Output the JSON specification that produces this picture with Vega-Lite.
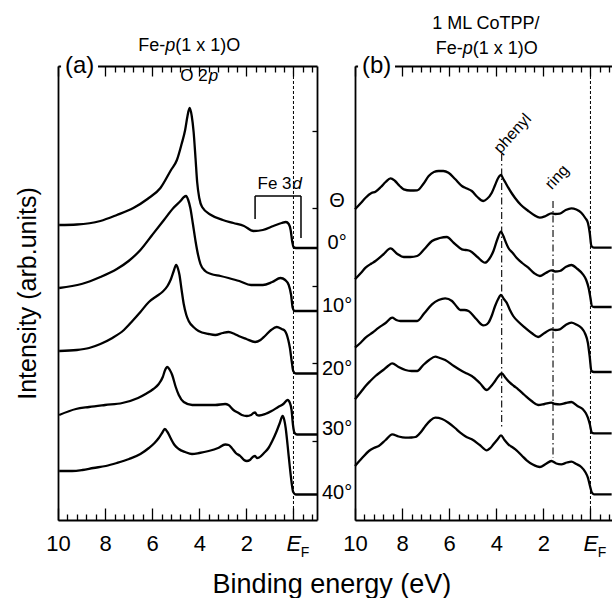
{
  "$schema": "https://vega.github.io/schema/vega-lite/v6.json",
  "padding": {"left": 15, "top": 14, "right": 0, "bottom": 0},
  "config": {
    "font": "Liberation Sans",
    "view": {"stroke": null},
    "axis": {"domainColor": "black", "domainWidth": 1.8, "tickColor": "black", "tickWidth": 1.3, "labelColor": "black", "titleColor": "black", "grid": false, "labelFont": "Liberation Sans", "titleFont": "Liberation Sans"},
    "text": {"font": "Liberation Sans", "color": "black"}
  },
  "title": {"text": "Binding energy (eV)", "orient": "bottom", "anchor": "middle", "fontSize": 27, "fontWeight": "normal", "font": "Liberation Sans", "color": "black", "offset": 12, "dx": 18},
  "spacing": 38,
  "bounds": "flush",
  "datasets": {
    "a": [
      {"t":"0","E":9.95,"I":295},{"t":"0","E":9.2,"I":295.5},{"t":"0","E":8.2,"I":299},{"t":"0","E":7.5,"I":305},{"t":"0","E":6.8,"I":312},{"t":"0","E":6.2,"I":321},{"t":"0","E":5.65,"I":332},{"t":"0","E":5.2,"I":350},{"t":"0","E":4.95,"I":360},{"t":"0","E":4.75,"I":376},{"t":"0","E":4.6,"I":390},{"t":"0","E":4.5,"I":404},{"t":"0","E":4.41,"I":412},{"t":"0","E":4.32,"I":404},{"t":"0","E":4.24,"I":388},{"t":"0","E":4.16,"I":362},{"t":"0","E":4.09,"I":338},{"t":"0","E":4.0,"I":322},{"t":"0","E":3.88,"I":313},{"t":"0","E":3.5,"I":305},{"t":"0","E":3.0,"I":300},{"t":"0","E":2.55,"I":297},{"t":"0","E":2.1,"I":294},{"t":"0","E":1.7,"I":289},{"t":"0","E":1.3,"I":290},{"t":"0","E":0.85,"I":294},{"t":"0","E":0.5,"I":297},{"t":"0","E":0.32,"I":298},{"t":"0","E":0.2,"I":296},{"t":"0","E":0.12,"I":290},{"t":"0","E":0.05,"I":278},{"t":"0","E":0.0,"I":273},{"t":"0","E":-0.1,"I":272},{"t":"0","E":-1.0,"I":272},
      {"t":"10","E":9.95,"I":232},{"t":"10","E":9.0,"I":236},{"t":"10","E":8.2,"I":243},{"t":"10","E":7.5,"I":251},{"t":"10","E":7.0,"I":259},{"t":"10","E":6.5,"I":270},{"t":"10","E":6.0,"I":285},{"t":"10","E":5.5,"I":300},{"t":"10","E":5.1,"I":312},{"t":"10","E":4.8,"I":319},{"t":"10","E":4.65,"I":323},{"t":"10","E":4.56,"I":324},{"t":"10","E":4.47,"I":320},{"t":"10","E":4.38,"I":312},{"t":"10","E":4.27,"I":296},{"t":"10","E":4.16,"I":279},{"t":"10","E":4.05,"I":265},{"t":"10","E":3.95,"I":256},{"t":"10","E":3.75,"I":249},{"t":"10","E":3.5,"I":246},{"t":"10","E":3.1,"I":244},{"t":"10","E":2.76,"I":242},{"t":"10","E":2.3,"I":239},{"t":"10","E":1.8,"I":235},{"t":"10","E":1.3,"I":235},{"t":"10","E":0.9,"I":238},{"t":"10","E":0.55,"I":242},{"t":"10","E":0.35,"I":240},{"t":"10","E":0.2,"I":235},{"t":"10","E":0.1,"I":225},{"t":"10","E":0.03,"I":212},{"t":"10","E":-0.05,"I":209},{"t":"10","E":-1.0,"I":209},
      {"t":"20","E":9.95,"I":169},{"t":"20","E":9.2,"I":170},{"t":"20","E":8.68,"I":172},{"t":"20","E":8.2,"I":176},{"t":"20","E":7.69,"I":182},{"t":"20","E":7.2,"I":190},{"t":"20","E":6.84,"I":199},{"t":"20","E":6.5,"I":208},{"t":"20","E":6.14,"I":218},{"t":"20","E":5.8,"I":224},{"t":"20","E":5.57,"I":228},{"t":"20","E":5.35,"I":234},{"t":"20","E":5.22,"I":240},{"t":"20","E":5.1,"I":248},{"t":"20","E":4.98,"I":255},{"t":"20","E":4.9,"I":251},{"t":"20","E":4.84,"I":245},{"t":"20","E":4.75,"I":230},{"t":"20","E":4.66,"I":216},{"t":"20","E":4.55,"I":205},{"t":"20","E":4.45,"I":199},{"t":"20","E":4.2,"I":192},{"t":"20","E":4.03,"I":189},{"t":"20","E":3.6,"I":186},{"t":"20","E":3.32,"I":185},{"t":"20","E":3.0,"I":187},{"t":"20","E":2.76,"I":188},{"t":"20","E":2.5,"I":186},{"t":"20","E":2.33,"I":184},{"t":"20","E":2.0,"I":181},{"t":"20","E":1.63,"I":178},{"t":"20","E":1.4,"I":180},{"t":"20","E":1.21,"I":184},{"t":"20","E":0.95,"I":190},{"t":"20","E":0.71,"I":193},{"t":"20","E":0.5,"I":191},{"t":"20","E":0.36,"I":189},{"t":"20","E":0.22,"I":180},{"t":"20","E":0.15,"I":172},{"t":"20","E":0.07,"I":158},{"t":"20","E":0.01,"I":149},{"t":"20","E":-0.1,"I":146.5},{"t":"20","E":-1.0,"I":146.5},
      {"t":"30","E":9.95,"I":105},{"t":"30","E":9.24,"I":111},{"t":"30","E":8.68,"I":113},{"t":"30","E":8.0,"I":115},{"t":"30","E":7.27,"I":117},{"t":"30","E":6.6,"I":122},{"t":"30","E":6.28,"I":126},{"t":"30","E":5.95,"I":131},{"t":"30","E":5.72,"I":136},{"t":"30","E":5.55,"I":143},{"t":"30","E":5.45,"I":150},{"t":"30","E":5.36,"I":153},{"t":"30","E":5.25,"I":150},{"t":"30","E":5.15,"I":145},{"t":"30","E":5.0,"I":133},{"t":"30","E":4.87,"I":125},{"t":"30","E":4.66,"I":118},{"t":"30","E":4.3,"I":115},{"t":"30","E":3.74,"I":115},{"t":"30","E":3.32,"I":115},{"t":"30","E":2.9,"I":116},{"t":"30","E":2.76,"I":115},{"t":"30","E":2.55,"I":110},{"t":"30","E":2.33,"I":107},{"t":"30","E":2.19,"I":105},{"t":"30","E":1.98,"I":104},{"t":"30","E":1.8,"I":105},{"t":"30","E":1.7,"I":107},{"t":"30","E":1.63,"I":107.5},{"t":"30","E":1.55,"I":105},{"t":"30","E":1.46,"I":104.5},{"t":"30","E":1.2,"I":106},{"t":"30","E":0.93,"I":109},{"t":"30","E":0.65,"I":113},{"t":"30","E":0.43,"I":116},{"t":"30","E":0.25,"I":120},{"t":"30","E":0.15,"I":117},{"t":"30","E":0.08,"I":110},{"t":"30","E":0.02,"I":95},{"t":"30","E":-0.05,"I":87},{"t":"30","E":-0.15,"I":85.5},{"t":"30","E":-1.0,"I":85.5},
      {"t":"40","E":9.95,"I":49},{"t":"40","E":9.4,"I":49},{"t":"40","E":8.96,"I":50},{"t":"40","E":8.5,"I":52},{"t":"40","E":7.97,"I":54},{"t":"40","E":7.5,"I":57},{"t":"40","E":6.98,"I":61},{"t":"40","E":6.5,"I":66},{"t":"40","E":6.14,"I":72},{"t":"40","E":5.9,"I":77},{"t":"40","E":5.72,"I":82},{"t":"40","E":5.58,"I":87},{"t":"40","E":5.46,"I":91},{"t":"40","E":5.35,"I":88},{"t":"40","E":5.22,"I":82},{"t":"40","E":5.05,"I":75},{"t":"40","E":4.87,"I":71},{"t":"40","E":4.6,"I":68},{"t":"40","E":4.31,"I":66},{"t":"40","E":4.0,"I":67},{"t":"40","E":3.6,"I":69},{"t":"40","E":3.2,"I":72},{"t":"40","E":2.9,"I":75.5},{"t":"40","E":2.75,"I":75},{"t":"40","E":2.62,"I":72},{"t":"40","E":2.45,"I":67},{"t":"40","E":2.26,"I":64},{"t":"40","E":2.1,"I":60},{"t":"40","E":1.98,"I":59},{"t":"40","E":1.85,"I":60},{"t":"40","E":1.77,"I":62},{"t":"40","E":1.7,"I":63.5},{"t":"40","E":1.63,"I":64},{"t":"40","E":1.55,"I":62},{"t":"40","E":1.46,"I":62.5},{"t":"40","E":1.25,"I":67},{"t":"40","E":1.06,"I":72},{"t":"40","E":0.9,"I":79},{"t":"40","E":0.71,"I":89},{"t":"40","E":0.58,"I":97},{"t":"40","E":0.46,"I":104},{"t":"40","E":0.39,"I":100},{"t":"40","E":0.33,"I":92},{"t":"40","E":0.25,"I":75},{"t":"40","E":0.15,"I":52},{"t":"40","E":0.07,"I":36},{"t":"40","E":0.01,"I":28},{"t":"40","E":-0.1,"I":25.5},{"t":"40","E":-1.0,"I":25.5}
    ],
    "b": [
      {"t":"0","E":10,"I":310.7},{"t":"0","E":9.75,"I":317},{"t":"0","E":9.55,"I":322.3},{"t":"0","E":9.3,"I":327},{"t":"0","E":9.13,"I":328.3},{"t":"0","E":8.9,"I":333},{"t":"0","E":8.7,"I":338},{"t":"0","E":8.49,"I":341.7},{"t":"0","E":8.3,"I":339},{"t":"0","E":8.1,"I":334},{"t":"0","E":7.93,"I":330.7},{"t":"0","E":7.65,"I":329.5},{"t":"0","E":7.36,"I":329.7},{"t":"0","E":7.1,"I":336},{"t":"0","E":6.87,"I":344},{"t":"0","E":6.65,"I":348},{"t":"0","E":6.45,"I":349},{"t":"0","E":6.25,"I":349},{"t":"0","E":6.03,"I":347.3},{"t":"0","E":5.75,"I":341},{"t":"0","E":5.46,"I":334},{"t":"0","E":5.25,"I":331.5},{"t":"0","E":5.04,"I":329},{"t":"0","E":4.8,"I":323},{"t":"0","E":4.55,"I":319},{"t":"0","E":4.4,"I":321},{"t":"0","E":4.19,"I":327.3},{"t":"0","E":4.05,"I":335},{"t":"0","E":3.92,"I":342},{"t":"0","E":3.8,"I":345},{"t":"0","E":3.7,"I":341},{"t":"0","E":3.6,"I":337},{"t":"0","E":3.49,"I":332.3},{"t":"0","E":3.35,"I":327},{"t":"0","E":3.21,"I":322.3},{"t":"0","E":2.95,"I":315},{"t":"0","E":2.64,"I":309},{"t":"0","E":2.4,"I":305},{"t":"0","E":2.15,"I":302.3},{"t":"0","E":1.9,"I":304},{"t":"0","E":1.66,"I":306.7},{"t":"0","E":1.5,"I":306},{"t":"0","E":1.3,"I":306.3},{"t":"0","E":1.05,"I":310},{"t":"0","E":0.81,"I":311.7},{"t":"0","E":0.6,"I":310.5},{"t":"0","E":0.39,"I":307.3},{"t":"0","E":0.22,"I":302},{"t":"0","E":0.11,"I":297.3},{"t":"0","E":0.03,"I":287},{"t":"0","E":-0.04,"I":274},{"t":"0","E":-0.15,"I":272.3},{"t":"0","E":-0.9,"I":272.3},
      {"t":"10","E":10,"I":240.7},{"t":"10","E":9.75,"I":247},{"t":"10","E":9.55,"I":252.3},{"t":"10","E":9.3,"I":256.5},{"t":"10","E":9.13,"I":259},{"t":"10","E":8.8,"I":265.5},{"t":"10","E":8.49,"I":271.7},{"t":"10","E":8.2,"I":266},{"t":"10","E":7.93,"I":263},{"t":"10","E":7.65,"I":263},{"t":"10","E":7.36,"I":264},{"t":"10","E":7.05,"I":271},{"t":"10","E":6.73,"I":279},{"t":"10","E":6.4,"I":282},{"t":"10","E":6.1,"I":283},{"t":"10","E":5.8,"I":277},{"t":"10","E":5.46,"I":270.7},{"t":"10","E":5.3,"I":270},{"t":"10","E":5.11,"I":269},{"t":"10","E":4.8,"I":263},{"t":"10","E":4.48,"I":257.3},{"t":"10","E":4.3,"I":261},{"t":"10","E":4.12,"I":269},{"t":"10","E":3.95,"I":281},{"t":"10","E":3.8,"I":288.3},{"t":"10","E":3.7,"I":284},{"t":"10","E":3.6,"I":278},{"t":"10","E":3.49,"I":272.3},{"t":"10","E":3.3,"I":267},{"t":"10","E":3.14,"I":262.3},{"t":"10","E":2.9,"I":257},{"t":"10","E":2.64,"I":252.3},{"t":"10","E":2.4,"I":247},{"t":"10","E":2.15,"I":244},{"t":"10","E":1.9,"I":247},{"t":"10","E":1.66,"I":249.7},{"t":"10","E":1.5,"I":248.5},{"t":"10","E":1.3,"I":249},{"t":"10","E":1.05,"I":253},{"t":"10","E":0.81,"I":255},{"t":"10","E":0.55,"I":251},{"t":"10","E":0.32,"I":245.7},{"t":"10","E":0.18,"I":240},{"t":"10","E":0.08,"I":232.3},{"t":"10","E":0.0,"I":222},{"t":"10","E":-0.06,"I":214},{"t":"10","E":-0.15,"I":213},{"t":"10","E":-0.9,"I":213},
      {"t":"20","E":10,"I":172.3},{"t":"20","E":9.75,"I":177.5},{"t":"20","E":9.55,"I":182.3},{"t":"20","E":9.25,"I":187.5},{"t":"20","E":8.99,"I":192.3},{"t":"20","E":8.7,"I":197},{"t":"20","E":8.42,"I":202.3},{"t":"20","E":8.25,"I":200},{"t":"20","E":8.07,"I":199},{"t":"20","E":7.7,"I":199},{"t":"20","E":7.36,"I":199},{"t":"20","E":7.05,"I":207},{"t":"20","E":6.73,"I":215.7},{"t":"20","E":6.45,"I":220},{"t":"20","E":6.17,"I":221.7},{"t":"20","E":5.88,"I":219},{"t":"20","E":5.7,"I":214},{"t":"20","E":5.53,"I":210},{"t":"20","E":5.35,"I":210},{"t":"20","E":5.18,"I":209},{"t":"20","E":4.85,"I":201},{"t":"20","E":4.55,"I":194.7},{"t":"20","E":4.45,"I":195},{"t":"20","E":4.33,"I":197.3},{"t":"20","E":4.18,"I":205},{"t":"20","E":4.05,"I":214},{"t":"20","E":3.92,"I":221},{"t":"20","E":3.8,"I":225},{"t":"20","E":3.68,"I":221},{"t":"20","E":3.56,"I":217.3},{"t":"20","E":3.42,"I":210},{"t":"20","E":3.28,"I":204},{"t":"20","E":3.05,"I":198},{"t":"20","E":2.78,"I":192.3},{"t":"20","E":2.5,"I":187},{"t":"20","E":2.22,"I":183},{"t":"20","E":1.95,"I":187},{"t":"20","E":1.66,"I":190.7},{"t":"20","E":1.5,"I":190},{"t":"20","E":1.3,"I":190.7},{"t":"20","E":1.05,"I":195},{"t":"20","E":0.81,"I":197.3},{"t":"20","E":0.6,"I":195.5},{"t":"20","E":0.39,"I":192.3},{"t":"20","E":0.22,"I":186},{"t":"20","E":0.11,"I":177.3},{"t":"20","E":0.03,"I":163},{"t":"20","E":-0.04,"I":149},{"t":"20","E":-0.15,"I":148},{"t":"20","E":-0.9,"I":148},
      {"t":"30","E":10,"I":120.7},{"t":"30","E":9.75,"I":128},{"t":"30","E":9.55,"I":134},{"t":"30","E":9.35,"I":139},{"t":"30","E":9.13,"I":144},{"t":"30","E":8.8,"I":150},{"t":"30","E":8.6,"I":154},{"t":"30","E":8.42,"I":156.7},{"t":"30","E":8.15,"I":153},{"t":"30","E":7.86,"I":150},{"t":"30","E":7.6,"I":149},{"t":"30","E":7.36,"I":149},{"t":"30","E":7.1,"I":155},{"t":"30","E":6.85,"I":160},{"t":"30","E":6.59,"I":163.3},{"t":"30","E":6.4,"I":162},{"t":"30","E":6.17,"I":160},{"t":"30","E":5.8,"I":154},{"t":"30","E":5.46,"I":149},{"t":"30","E":5.25,"I":146.5},{"t":"30","E":5.04,"I":144},{"t":"30","E":4.7,"I":137},{"t":"30","E":4.4,"I":130},{"t":"30","E":4.25,"I":133},{"t":"30","E":4.05,"I":139},{"t":"30","E":3.9,"I":144},{"t":"30","E":3.77,"I":146.7},{"t":"30","E":3.6,"I":142},{"t":"30","E":3.42,"I":137.3},{"t":"30","E":3.25,"I":134},{"t":"30","E":3.07,"I":130.7},{"t":"30","E":2.8,"I":125},{"t":"30","E":2.5,"I":119},{"t":"30","E":2.22,"I":115},{"t":"30","E":1.95,"I":116},{"t":"30","E":1.66,"I":117.3},{"t":"30","E":1.5,"I":116},{"t":"30","E":1.3,"I":115.7},{"t":"30","E":1.05,"I":117},{"t":"30","E":0.81,"I":118},{"t":"30","E":0.55,"I":114},{"t":"30","E":0.32,"I":110.7},{"t":"30","E":0.2,"I":107},{"t":"30","E":0.11,"I":102.3},{"t":"30","E":0.03,"I":96},{"t":"30","E":-0.06,"I":87.3},{"t":"30","E":-0.15,"I":86.7},{"t":"30","E":-0.9,"I":86.7},
      {"t":"40","E":10,"I":54},{"t":"40","E":9.7,"I":62},{"t":"40","E":9.41,"I":69},{"t":"40","E":9.2,"I":72},{"t":"40","E":8.99,"I":74},{"t":"40","E":8.7,"I":80},{"t":"40","E":8.42,"I":85.7},{"t":"40","E":8.15,"I":83.5},{"t":"40","E":7.86,"I":82.3},{"t":"40","E":7.6,"I":82.5},{"t":"40","E":7.43,"I":83},{"t":"40","E":7.2,"I":88},{"t":"40","E":7.01,"I":94},{"t":"40","E":6.8,"I":99.5},{"t":"40","E":6.59,"I":102.3},{"t":"40","E":6.3,"I":101},{"t":"40","E":6.03,"I":97.3},{"t":"40","E":5.75,"I":92},{"t":"40","E":5.53,"I":87.3},{"t":"40","E":5.3,"I":83.5},{"t":"40","E":5.04,"I":80.7},{"t":"40","E":4.7,"I":75},{"t":"40","E":4.4,"I":69.7},{"t":"40","E":4.25,"I":72},{"t":"40","E":4.12,"I":75.7},{"t":"40","E":3.95,"I":80.5},{"t":"40","E":3.8,"I":84.7},{"t":"40","E":3.65,"I":80},{"t":"40","E":3.49,"I":75.7},{"t":"40","E":3.3,"I":72.5},{"t":"40","E":3.14,"I":69.7},{"t":"40","E":2.9,"I":64},{"t":"40","E":2.71,"I":59.7},{"t":"40","E":2.45,"I":55.5},{"t":"40","E":2.15,"I":53},{"t":"40","E":1.9,"I":56},{"t":"40","E":1.66,"I":59},{"t":"40","E":1.45,"I":56.5},{"t":"40","E":1.24,"I":55.7},{"t":"40","E":1.0,"I":57.5},{"t":"40","E":0.81,"I":58.3},{"t":"40","E":0.6,"I":56},{"t":"40","E":0.39,"I":53},{"t":"40","E":0.22,"I":48},{"t":"40","E":0.11,"I":42.3},{"t":"40","E":0.02,"I":34},{"t":"40","E":-0.06,"I":27.3},{"t":"40","E":-0.15,"I":25.7},{"t":"40","E":-0.9,"I":25.7}
    ],
    "angles": [
      {"label":"Θ","I":319},{"label":"0°","I":277},{"label":"10°","I":214},{"label":"20°","I":151},{"label":"30°","I":91},{"label":"40°","I":27}
    ]
  },
  "hconcat": [
    {
      "width": 259,
      "height": 454,
      "data": {"values": [{}]},
      "layer": [
        {
          "data": {"name": "a"},
          "mark": {"type": "line", "color": "black", "strokeWidth": 2.3, "interpolate": "monotone", "strokeJoin": "round"},
          "encoding": {
            "x": {"field": "E", "type": "quantitative", "scale": {"domain": [10, -1], "nice": false, "zero": false},
              "axis": {"orient": "bottom", "title": null,
                "values": [10,9.6,9.2,8.8,8.4,8,7.6,7.2,6.8,6.4,6,5.6,5.2,4.8,4.4,4,3.6,3.2,2.8,2.4,2,1.6,1.2,0.8,0.4,0,-0.4,-0.8],
                "labelExpr": "abs(datum.value % 2) < 0.001 ? (datum.value == 0 ? 'E' : '' + datum.value) : ''",
                "labelFontStyle": {"condition": {"test": "datum.value == 0", "value": "italic"}, "value": "normal"},
                "labelFontSize": 22, "labelOverlap": false, "labelFlush": false, "labelPadding": 25,
                "tickSize": -12,
                "tickDash": {"condition": {"test": "abs(datum.value % 2) > 0.001", "value": [6, 30]}, "value": [40, 0]}}},
            "y": {"field": "I", "type": "quantitative", "scale": {"domain": [0, 454], "nice": false, "zero": false},
              "axis": {"orient": "left", "title": "Intensity (arb.units)", "labels": false, "ticks": false, "titleFontSize": 25, "titleFontWeight": "normal", "titlePadding": 18}},
            "detail": {"field": "t"}
          }
        },
        {
          "mark": {"type": "rule", "color": "black", "strokeWidth": 1, "strokeDash": [3, 2]},
          "encoding": {
            "x": {"datum": 0, "type": "quantitative",
              "axis": {"orient": "top", "title": null, "labels": false,
                "values": [10,9.6,9.2,8.8,8.4,8,7.6,7.2,6.8,6.4,6,5.6,5.2,4.8,4.4,4,3.6,3.2,2.8,2.4,2,1.6,1.2,0.8,0.4,0,-0.4,-0.8],
                "tickSize": -10,
                "tickDash": {"condition": {"test": "abs(datum.value % 2) > 0.001", "value": [6, 30]}, "value": [40, 0]}}}
          }
        },
        {
          "mark": {"type": "rule", "color": "black", "strokeWidth": 1.5},
          "encoding": {
            "x": {"datum": 1.63, "type": "quantitative", "axis": null},
            "x2": {"datum": -0.32},
            "y": {"datum": 324, "type": "quantitative",
              "axis": {"orient": "right", "title": null, "labels": false, "values": [79, 157, 234, 312, 389], "tickSize": -5}}
          }
        },
        {
          "mark": {"type": "rule", "color": "black", "strokeWidth": 1.5},
          "encoding": {
            "x": {"datum": 1.63, "type": "quantitative", "axis": null},
            "y": {"datum": 324, "type": "quantitative", "axis": null},
            "y2": {"datum": 301}
          }
        },
        {
          "mark": {"type": "rule", "color": "black", "strokeWidth": 1.5},
          "encoding": {
            "x": {"datum": -0.32, "type": "quantitative", "axis": null},
            "y": {"datum": 324, "type": "quantitative", "axis": null},
            "y2": {"datum": 282}
          }
        },
        {
          "mark": {"type": "rect", "fill": "white"},
          "encoding": {
            "x": {"datum": 9.87, "type": "quantitative", "axis": null},
            "x2": {"datum": 8.3},
            "y": {"datum": 440, "type": "quantitative", "axis": null},
            "y2": {"datum": 468}
          }
        },
        {
          "mark": {"type": "text", "text": "(a)", "fontSize": 24, "align": "center", "baseline": "middle"},
          "encoding": {"x": {"datum": 9.08, "type": "quantitative", "axis": null}, "y": {"datum": 454, "type": "quantitative", "axis": null}}
        },
        {
          "mark": {"type": "text", "text": "O 2", "fontSize": 17, "align": "right", "baseline": "middle"},
          "encoding": {"x": {"datum": 3.64, "type": "quantitative", "axis": null}, "y": {"datum": 444, "type": "quantitative", "axis": null}}
        },
        {
          "mark": {"type": "text", "text": "p", "fontSize": 17, "fontStyle": "italic", "align": "left", "baseline": "middle", "dx": 1},
          "encoding": {"x": {"datum": 3.64, "type": "quantitative", "axis": null}, "y": {"datum": 444, "type": "quantitative", "axis": null}}
        },
        {
          "mark": {"type": "text", "text": "Fe 3", "fontSize": 17, "align": "right", "baseline": "middle"},
          "encoding": {"x": {"datum": 0.08, "type": "quantitative", "axis": null}, "y": {"datum": 336, "type": "quantitative", "axis": null}}
        },
        {
          "mark": {"type": "text", "text": "d", "fontSize": 17, "fontStyle": "italic", "align": "left", "baseline": "middle", "dx": 1},
          "encoding": {"x": {"datum": 0.08, "type": "quantitative", "axis": null}, "y": {"datum": 336, "type": "quantitative", "axis": null}}
        },
        {
          "mark": {"type": "text", "text": "Fe-", "fontSize": 18, "align": "right", "baseline": "middle"},
          "encoding": {"x": {"datum": 5.44, "type": "quantitative", "axis": null}, "y": {"datum": 474, "type": "quantitative", "axis": null}}
        },
        {
          "mark": {"type": "text", "text": "p", "fontSize": 18, "fontStyle": "italic", "align": "center", "baseline": "middle"},
          "encoding": {"x": {"datum": 5.23, "type": "quantitative", "axis": null}, "y": {"datum": 474, "type": "quantitative", "axis": null}}
        },
        {
          "mark": {"type": "text", "text": "(1 x 1)O", "fontSize": 18, "align": "left", "baseline": "middle"},
          "encoding": {"x": {"datum": 5.02, "type": "quantitative", "axis": null}, "y": {"datum": 474, "type": "quantitative", "axis": null}}
        },
        {
          "mark": {"type": "text", "text": "F", "fontSize": 14, "align": "center", "baseline": "middle"},
          "encoding": {"x": {"datum": -0.49, "type": "quantitative", "axis": null}, "y": {"datum": -33, "type": "quantitative", "axis": null}}
        }
      ],
      "resolve": {"axis": {"x": "independent", "y": "independent"}}
    },
    {
      "width": 257,
      "height": 454,
      "data": {"values": [{}]},
      "layer": [
        {
          "data": {"name": "b"},
          "mark": {"type": "line", "color": "black", "strokeWidth": 2.3, "interpolate": "monotone", "strokeJoin": "round"},
          "encoding": {
            "x": {"field": "E", "type": "quantitative", "scale": {"domain": [10, -0.915], "nice": false, "zero": false},
              "axis": {"orient": "bottom", "title": null,
                "values": [10,9.6,9.2,8.8,8.4,8,7.6,7.2,6.8,6.4,6,5.6,5.2,4.8,4.4,4,3.6,3.2,2.8,2.4,2,1.6,1.2,0.8,0.4,0,-0.4,-0.8],
                "labelExpr": "abs(datum.value % 2) < 0.001 ? (datum.value == 0 ? 'E' : '' + datum.value) : ''",
                "labelFontStyle": {"condition": {"test": "datum.value == 0", "value": "italic"}, "value": "normal"},
                "labelFontSize": 22, "labelOverlap": false, "labelFlush": false, "labelPadding": 25,
                "tickSize": -12,
                "tickDash": {"condition": {"test": "abs(datum.value % 2) > 0.001", "value": [6, 30]}, "value": [40, 0]}}},
            "y": {"field": "I", "type": "quantitative", "scale": {"domain": [0, 454], "nice": false, "zero": false},
              "axis": {"orient": "left", "title": null, "labels": false, "ticks": false}},
            "detail": {"field": "t"}
          }
        },
        {
          "mark": {"type": "rule", "color": "black", "strokeWidth": 1, "strokeDash": [3, 2]},
          "encoding": {
            "x": {"datum": 0, "type": "quantitative",
              "axis": {"orient": "top", "title": null, "labels": false,
                "values": [10,9.6,9.2,8.8,8.4,8,7.6,7.2,6.8,6.4,6,5.6,5.2,4.8,4.4,4,3.6,3.2,2.8,2.4,2,1.6,1.2,0.8,0.4,0,-0.4,-0.8],
                "tickSize": -10,
                "tickDash": {"condition": {"test": "abs(datum.value % 2) > 0.001", "value": [6, 30]}, "value": [40, 0]}}}
          }
        },
        {
          "mark": {"type": "rule", "color": "black", "strokeWidth": 1.1, "strokeDash": [7, 3, 1.5, 3]},
          "encoding": {
            "x": {"datum": 3.77, "type": "quantitative", "axis": null},
            "y": {"datum": 366, "type": "quantitative", "axis": null},
            "y2": {"datum": 91}
          }
        },
        {
          "mark": {"type": "rule", "color": "black", "strokeWidth": 1.1, "strokeDash": [7, 3, 1.5, 3]},
          "encoding": {
            "x": {"datum": 1.59, "type": "quantitative", "axis": null},
            "y": {"datum": 319, "type": "quantitative", "axis": null},
            "y2": {"datum": 62}
          }
        },
        {
          "mark": {"type": "text", "text": "phenyl", "fontSize": 16, "align": "left", "baseline": "middle", "angle": -48},
          "encoding": {"x": {"datum": 3.98, "type": "quantitative", "axis": null}, "y": {"datum": 369, "type": "quantitative", "axis": null}}
        },
        {
          "mark": {"type": "text", "text": "ring", "fontSize": 16, "align": "left", "baseline": "middle", "angle": -48},
          "encoding": {"x": {"datum": 1.8, "type": "quantitative", "axis": null}, "y": {"datum": 333, "type": "quantitative", "axis": null}}
        },
        {
          "mark": {"type": "rect", "fill": "white"},
          "encoding": {
            "x": {"datum": 9.87, "type": "quantitative", "axis": null},
            "x2": {"datum": 8.3},
            "y": {"datum": 440, "type": "quantitative", "axis": null},
            "y2": {"datum": 468}
          }
        },
        {
          "mark": {"type": "text", "text": "(b)", "fontSize": 24, "align": "center", "baseline": "middle"},
          "encoding": {"x": {"datum": 9.08, "type": "quantitative", "axis": null}, "y": {"datum": 454, "type": "quantitative", "axis": null}}
        },
        {
          "mark": {"type": "text", "text": "1 ML CoTPP/", "fontSize": 18, "align": "center", "baseline": "middle"},
          "encoding": {"x": {"datum": 4.44, "type": "quantitative", "axis": null}, "y": {"datum": 496, "type": "quantitative", "axis": null}}
        },
        {
          "mark": {"type": "text", "text": "Fe-", "fontSize": 18, "align": "right", "baseline": "middle"},
          "encoding": {"x": {"datum": 5.42, "type": "quantitative", "axis": null}, "y": {"datum": 471, "type": "quantitative", "axis": null}}
        },
        {
          "mark": {"type": "text", "text": "p", "fontSize": 18, "fontStyle": "italic", "align": "center", "baseline": "middle"},
          "encoding": {"x": {"datum": 5.21, "type": "quantitative", "axis": null}, "y": {"datum": 471, "type": "quantitative", "axis": null}}
        },
        {
          "mark": {"type": "text", "text": "(1 x 1)O", "fontSize": 18, "align": "left", "baseline": "middle"},
          "encoding": {"x": {"datum": 5.0, "type": "quantitative", "axis": null}, "y": {"datum": 471, "type": "quantitative", "axis": null}}
        },
        {
          "mark": {"type": "text", "text": "F", "fontSize": 14, "align": "center", "baseline": "middle"},
          "encoding": {"x": {"datum": -0.49, "type": "quantitative", "axis": null}, "y": {"datum": -33, "type": "quantitative", "axis": null}}
        },
        {
          "data": {"name": "angles"},
          "mark": {"type": "text", "fontSize": 20, "align": "center", "baseline": "middle"},
          "encoding": {
            "x": {"datum": 10.76, "type": "quantitative", "axis": null},
            "y": {"field": "I", "type": "quantitative", "axis": null},
            "text": {"field": "label"}
          }
        }
      ],
      "resolve": {"axis": {"x": "independent", "y": "independent"}}
    }
  ]
}
